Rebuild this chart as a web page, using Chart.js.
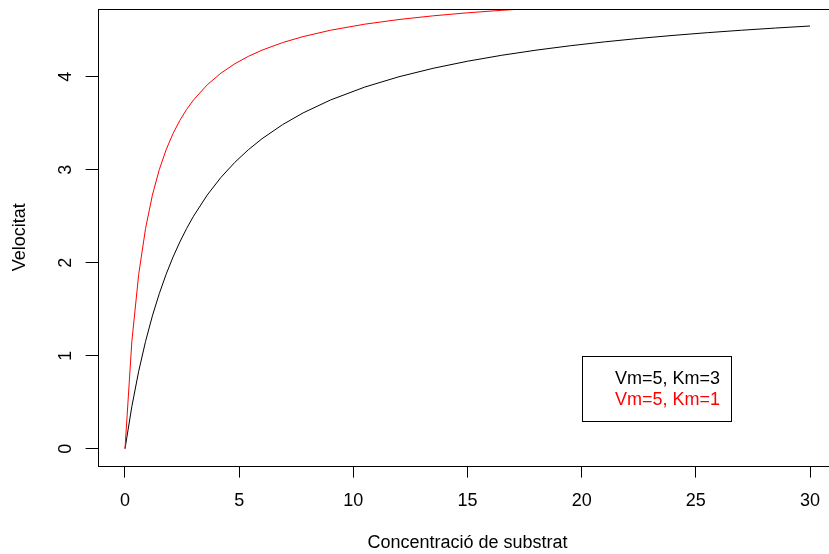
<!DOCTYPE html>
<html><head><meta charset="utf-8">
<script src="https://cdn.jsdelivr.net/npm/chart.js@4.4.1/dist/chart.umd.min.js"></script>
<style>
html,body{margin:0;padding:0;background:#fff;overflow:hidden;width:829px;height:554px}
canvas{position:absolute;left:0;top:0}
</style></head>
<body><canvas id="c" width="850" height="554"></canvas>
<script>
// ---- data ----
const concentration = [0,0.3,0.6,0.9,1.2,1.5,1.8,2.1,2.4,2.7,3,3.6,4.2,4.8,5.4,6,6.9,7.8,9,10.5,12,13.5,15,16.5,18,19.5,21,22.5,24,25.5,27,28.5,30];
const velocityKm3 = [0,0.4545,0.8333,1.1538,1.4286,1.6667,1.875,2.0588,2.2222,2.3684,2.5,2.7273,2.9167,3.0769,3.2143,3.3333,3.4848,3.6111,3.75,3.8889,4.0,4.0909,4.1667,4.2308,4.2857,4.3333,4.375,4.4118,4.4444,4.4737,4.5,4.5238,4.5455];
const velocityKm1 = [0,1.1538,1.875,2.3684,2.7273,3.0,3.2143,3.3871,3.5294,3.6486,3.75,3.913,4.0385,4.1379,4.2188,4.2857,4.3671,4.4318,4.5,4.5652,4.6154,4.6552,4.6875,4.7143,4.7368,4.7561,4.7727,4.7872,4.8,4.8113,4.8214,4.8305,4.8387];
const seriesLabels = ['Vm=5, Km=3', 'Vm=5, Km=1'];
const seriesColors = ['#000000', '#ff0000'];
const xTicks = [0,5,10,15,20,25,30];
const yTicks = [0,1,2,3,4];
const xTitle = 'Concentració de substrat';
const yTitle = 'Velocitat';
const legendAnchor = {x: 20, y: 1};

// ---- chart ----
const FONT = 'Liberation Sans, Arial, Helvetica, sans-serif';
const toPoints = (xs, ys) => xs.map((x, i) => ({x, y: ys[i]}));

const boxPlugin = {
  id: 'rbox',
  afterDraw(chart) {
    const {ctx, chartArea: a, scales} = chart;
    ctx.save();
    ctx.strokeStyle = '#000';
    ctx.lineWidth = 1;
    const l = Math.round(a.left) + 0.5, t = Math.round(a.top) + 0.5;
    const r = Math.round(a.right) + 0.5, b = Math.round(a.bottom) + 0.5;
    ctx.strokeRect(l, t, r - l, b - t);
    // legend
    const lx = Math.round(scales.x.getPixelForValue(legendAnchor.x)) + 0.5;
    const ly = Math.round(scales.y.getPixelForValue(legendAnchor.y)) + 0.5;
    ctx.strokeRect(lx, ly, 149, 65);
    ctx.font = '18px ' + FONT;
    ctx.textAlign = 'left';
    ctx.textBaseline = 'middle';
    seriesLabels.forEach((lab, i) => {
      ctx.fillStyle = seriesColors[i];
      ctx.fillText(lab, lx + 32.5, ly + 22.5 + i * 21.5);
    });
    ctx.restore();
  }
};

new Chart(document.getElementById('c'), {
  type: 'line',
  data: {
    datasets: [
      {label: seriesLabels[0], data: toPoints(concentration, velocityKm3), borderColor: seriesColors[0], borderWidth: 1, pointRadius: 0, tension: 0, fill: false, order: 1},
      {label: seriesLabels[1], data: toPoints(concentration, velocityKm1), borderColor: seriesColors[1], borderWidth: 1, pointRadius: 0, tension: 0, fill: false, order: 0}
    ]
  },
  options: {
    responsive: false,
    animation: false,
    events: [],
    layout: {padding: {left: 0, top: 9.1, right: 12.6, bottom: 0}},
    plugins: {legend: {display: false}, tooltip: {enabled: false}, title: {display: false}},
    scales: {
      x: {
        type: 'linear', position: 'bottom', min: -1.2, max: 31.2,
        afterBuildTicks: s => { s.ticks = xTicks.map(v => ({value: v})); },
        afterFit: s => { s.height = 88.4; s.paddingLeft = 0; s.paddingRight = 0; },
        grid: {display: true, drawOnChartArea: false, drawTicks: true, tickLength: 12, color: '#000', lineWidth: 1},
        border: {display: false},
        ticks: {color: '#000', font: {family: FONT, size: 18}, padding: 13, maxRotation: 0, minRotation: 0, autoSkip: false},
        title: {display: true, text: xTitle, color: '#000', font: {family: FONT, size: 18}, padding: {top: 0, bottom: 0}}
      },
      y: {
        type: 'linear', position: 'left', min: -0.1818, max: 4.7273,
        afterBuildTicks: s => { s.ticks = yTicks.map(v => ({value: v})); },
        afterFit: s => { s.width = 97.6; s.paddingTop = 0; s.paddingBottom = 0; },
        grid: {display: true, drawOnChartArea: false, drawTicks: true, tickLength: 12, color: '#000', lineWidth: 1},
        border: {display: false},
        ticks: {color: '#000', font: {family: FONT, size: 18}, padding: 15, minRotation: 90, maxRotation: 90, crossAlign: 'center', autoSkip: false},
        title: {display: true, text: yTitle, color: '#000', font: {family: FONT, size: 18}, padding: {top: 9, bottom: 0}}
      }
    }
  },
  plugins: [boxPlugin]
});
</script>
</body></html>
